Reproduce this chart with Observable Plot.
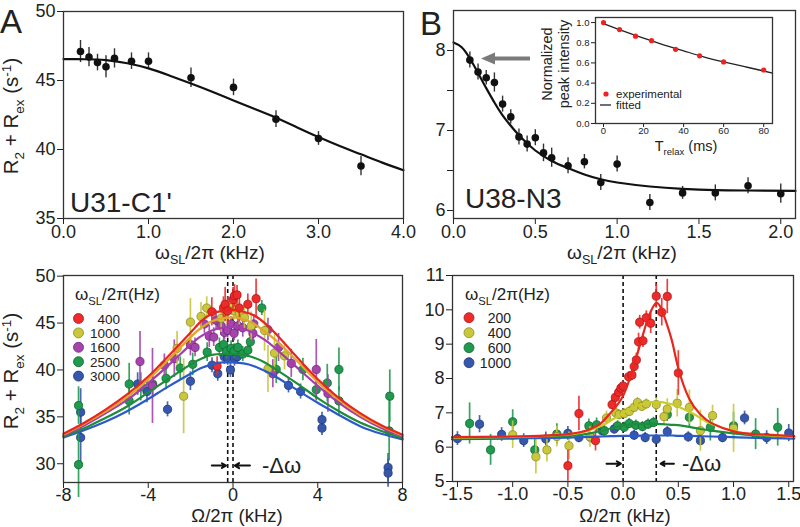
<!DOCTYPE html>
<html><head><meta charset="utf-8">
<script src="https://cdn.jsdelivr.net/npm/d3@7"></script>
<script src="https://cdn.jsdelivr.net/npm/@observablehq/plot@0.6"></script>
<style>
body{margin:0;background:#fff;}
#wrap{position:relative;width:800px;height:527px;background:#fff;overflow:hidden;}
#wrap svg{position:absolute;left:0;top:0;background:transparent;overflow:visible;}
</style></head><body><div id="wrap"></div>
<script>
const FONT = "'Liberation Sans', Arial, Helvetica, sans-serif";

// ---------- Panel A : U31-C1' ----------
const aX   = [0.2, 0.3, 0.4, 0.5, 0.6, 0.8, 1.0, 1.5, 2.0, 2.5, 3.0, 3.5];
const aY   = [47.1, 46.7, 46.3, 46.0, 46.6, 46.4, 46.4, 45.2, 44.5, 42.2, 40.8, 38.8];
const aErr = [0.8, 0.7, 0.6, 0.8, 0.7, 0.6, 0.6, 0.7, 0.6, 0.6, 0.5, 0.7];
const aFitX = [0, 0.25, 0.5, 0.75, 1.0, 1.25, 1.5, 1.75, 2.0, 2.25, 2.5, 2.75, 3.0, 3.25, 3.5, 3.75, 4.0];
const aFitY = [46.55, 46.54, 46.48, 46.25, 45.88, 45.35, 44.78, 44.18, 43.55, 42.93, 42.3, 41.6, 40.9, 40.25, 39.65, 39.05, 38.5];
const aXTicks = [0, 1, 2, 3, 4];
const aYTicks = [35, 40, 45, 50];

// ---------- Panel B : U38-N3 ----------
const bX   = [0.1, 0.15, 0.2, 0.25, 0.3, 0.35, 0.4, 0.45, 0.5, 0.55, 0.6, 0.7, 0.8, 0.9, 1.0, 1.2, 1.4, 1.6, 1.8, 2.0];
const bY   = [7.88, 7.73, 7.66, 7.60, 7.33, 7.17, 6.92, 6.83, 6.91, 6.72, 6.66, 6.56, 6.61, 6.35, 6.58, 6.10, 6.22, 6.22, 6.31, 6.21];
const bErr = [0.1, 0.1, 0.09, 0.12, 0.1, 0.09, 0.1, 0.1, 0.1, 0.11, 0.12, 0.1, 0.09, 0.1, 0.1, 0.1, 0.08, 0.1, 0.1, 0.12];
const bFitX = [0, 0.05, 0.1, 0.15, 0.2, 0.25, 0.3, 0.4, 0.5, 0.6, 0.7, 0.8, 0.9, 1.0, 1.2, 1.4, 1.6, 1.8, 2.09];
const bFitY = [8.10, 8.04, 7.90, 7.72, 7.53, 7.35, 7.19, 6.94, 6.75, 6.62, 6.53, 6.45, 6.39, 6.35, 6.30, 6.27, 6.255, 6.25, 6.245];
const bXTicks = [0, 0.5, 1.0, 1.5, 2.0];
const bYTicks = [6, 6.5, 7, 7.5, 8];

// ---------- Inset of B ----------
const insX = [0, 8, 16, 24, 36, 48, 60, 80];
const insY = [1.0, 0.93, 0.865, 0.82, 0.735, 0.67, 0.61, 0.53];
const insFitX = [0, 10, 20, 30, 40, 50, 60, 70, 80, 84.4];
const insFitY = [0.99, 0.915, 0.845, 0.78, 0.72, 0.66, 0.61, 0.565, 0.52, 0.50];
const insXTicks = [0, 20, 40, 60, 80];
const insYTicks = [0, 0.2, 0.4, 0.6, 0.8, 1.0];

// ---------- Panel C (U31-C1' off-resonance) ----------
const cSeries = ["400", "1000", "1600", "2500", "3000"];
const c400X = [-1.0, -0.75, -0.45, -0.37, -0.25, 0.0, 0.07, 0.19, 0.3, 0.7, 1.09];
const c400Y = [46.2, 40.4, 46.6, 47.0, 46.3, 47.5, 47.9, 48.0, 46.6, 47.0, 47.6];
const c400E = [1.5, 1.0, 1.2, 1.8, 1.5, 1.3, 1.2, 1.0, 1.5, 1.1, 2.1];
const c1000X = [-2.64, -2.33, -2.01, -1.51, -1.24, -0.56, -0.33, 0.0, 0.04, 0.15, 0.3, 0.54, 0.86, 1.49, 1.65, 1.96, 2.43];
const c1000Y = [42.3, 37.2, 45.1, 45.7, 46.6, 45.5, 46.2, 46.8, 46.3, 46.6, 46.0, 45.6, 44.7, 44.2, 40.1, 41.8, 41.5];
const c1000E = [1.8, 4.0, 2.5, 1.5, 1.2, 1.5, 1.2, 1.0, 1.0, 1.0, 1.2, 1.3, 1.5, 2.2, 2.5, 2.0, 1.5];
const c1600X = [-4.39, -3.8, -3.24, -2.77, -2.01, -1.79, -1.35, -1.12, -0.91, -0.8, -0.56, -0.4, -0.25, -0.09, 0.05, 0.23, 0.46, 0.94, 0.98, 1.65, 1.88, 2.15, 2.75, 3.93, 4.48];
const c1600Y = [40.9, 38.3, 40.5, 41.2, 42.7, 42.4, 44.9, 43.6, 43.5, 45.3, 44.7, 44.0, 44.2, 44.9, 43.9, 44.7, 44.5, 43.9, 44.9, 44.3, 39.6, 42.4, 40.7, 40.05, 37.5];
const c1600E = [3.2, 4.0, 1.2, 2.0, 1.2, 1.0, 1.0, 1.2, 1.0, 1.0, 1.0, 0.8, 0.8, 0.8, 0.8, 0.8, 1.0, 1.0, 1.0, 1.2, 1.5, 1.5, 1.5, 3.2, 2.0];
const c2500X = [-7.29, -7.29, -4.9, -4.9, -4.35, -3.79, -3.16, -2.49, -1.9, -1.22, -0.64, -0.44, -0.3, -0.09, 0.05, 0.23, 0.46, 0.7, 0.82, 1.36, 2.04, 3.3, 3.93, 4.45, 5.0, 5.0, 7.4, 7.37];
const c2500Y = [36.2, 29.9, 38.5, 36.7, 38.2, 38.5, 39.1, 40.2, 40.6, 41.9, 42.4, 42.7, 42.0, 42.3, 42.0, 42.4, 41.7, 42.1, 43.0, 46.6, 40.05, 40.05, 37.9, 38.6, 40.05, 36.7, 37.2, 33.5];
const c2500E = [2.0, 3.5, 2.2, 1.5, 1.5, 1.2, 1.2, 1.2, 1.2, 1.0, 1.0, 1.0, 0.8, 0.8, 0.8, 0.8, 0.8, 0.8, 1.0, 0.8, 1.5, 1.2, 1.2, 2.0, 2.3, 1.5, 2.8, 3.2];
const c3000X = [-7.19, -7.19, -4.5, -4.06, -3.09, -2.01, -0.99, -0.72, -0.41, -0.25, -0.12, 0.07, 0.2, 2.62, 3.19, 4.2, 4.2, 7.32, 7.32];
const c3000Y = [35.5, 32.8, 38.5, 37.7, 35.8, 38.8, 40.5, 39.6, 41.4, 41.3, 40.0, 41.2, 41.4, 38.35, 37.7, 34.7, 33.8, 29.6, 29.0];
const c3000E = [2.5, 3.0, 1.2, 1.2, 0.8, 1.0, 0.8, 0.8, 0.8, 0.8, 0.8, 0.8, 0.8, 0.8, 0.8, 0.8, 0.8, 1.5, 1.5];
const cFitX = [-8, -7, -6, -5, -4, -3, -2, -1.5, -1, -0.5, 0, 0.5, 1, 1.5, 2, 3, 4, 5, 6, 7, 8];
const cFit400  = [33.2, 34.4, 35.8, 37.4, 39.3, 41.6, 44.0, 45.2, 46.0, 46.3, 46.4, 46.2, 45.8, 45.0, 43.9, 41.4, 39.0, 37.0, 35.4, 34.1, 33.1];
const cFit1000 = [33.1, 34.3, 35.6, 37.1, 39.0, 41.2, 43.5, 44.5, 45.2, 45.5, 45.6, 45.4, 44.9, 44.1, 43.2, 41.0, 38.7, 36.8, 35.2, 34.0, 33.0];
const cFit1600 = [33.0, 34.1, 35.4, 36.8, 38.6, 40.6, 42.7, 43.6, 44.2, 44.5, 44.6, 44.4, 43.9, 43.2, 42.3, 40.3, 38.3, 36.5, 35.0, 33.8, 32.9];
const cFit2500 = [32.9, 33.8, 34.9, 36.1, 37.6, 39.1, 40.6, 41.2, 41.6, 41.7, 41.7, 41.6, 41.3, 40.8, 40.1, 38.6, 37.0, 35.6, 34.4, 33.5, 32.7];
const cFit3000 = [32.8, 33.6, 34.5, 35.6, 36.9, 38.3, 39.6, 40.2, 40.6, 40.8, 40.8, 40.7, 40.4, 39.9, 39.3, 37.9, 36.5, 35.2, 34.0, 33.2, 32.6];
const cXTicks = [-8, -4, 0, 4, 8];
const cYTicks = [30, 35, 40, 45, 50];
const cDashed = [-0.25, 0];
const cArrowFrom = [-1.0, 0.8];
const cArrowTo = [-0.33, 0.08];
const cArrowY = 29.8;

// ---------- Panel D (U38-N3 off-resonance) ----------
const dSeries = ["200", "400", "600", "1000"];
const d200X = [-0.5, -0.4, -0.25, -0.1, -0.07, -0.04, -0.02, 0.0, 0.05, 0.08, 0.1, 0.12, 0.14, 0.18, 0.15, 0.21, 0.25, 0.3, 0.35, 0.4, 0.5];
const d200Y = [5.46, 6.98, 6.19, 7.24, 7.45, 7.6, 7.72, 7.78, 8.05, 8.1, 8.35, 8.54, 9.07, 9.1, 9.64, 9.77, 9.61, 10.4, 9.93, 10.39, 8.16];
const d200E = [0.45, 0.5, 0.3, 0.15, 0.15, 0.15, 0.15, 0.15, 0.15, 0.15, 0.15, 0.2, 0.25, 0.2, 0.2, 0.2, 0.3, 0.35, 0.4, 0.5, 0.65];
const d400X = [-1.0, -0.79, -0.69, -0.6, -0.49, -0.3, -0.15, -0.066, -0.036, 0.01, 0.055, 0.1, 0.13, 0.17, 0.21, 0.3, 0.37, 0.4, 0.49, 0.6, 0.7, 0.81, 1.0];
const d400Y = [6.36, 5.72, 5.92, 6.31, 6.04, 6.3, 6.85, 7.0, 6.95, 6.98, 7.04, 7.16, 7.3, 7.19, 7.26, 7.24, 6.89, 7.11, 7.28, 7.16, 6.48, 6.92, 6.55];
const d400E = [0.4, 0.5, 0.35, 0.3, 0.4, 0.3, 0.2, 0.15, 0.15, 0.15, 0.15, 0.15, 0.15, 0.15, 0.15, 0.2, 0.25, 0.3, 0.4, 0.5, 0.6, 0.3, 0.7];
const d600X = [-1.39, -1.2, -1.0, -0.8, -0.6, -0.31, -0.24, -0.17, -0.05, 0.01, 0.055, 0.115, 0.175, 0.226, 0.275, 0.4, 0.6, 0.79, 1.0, 1.2, 1.4];
const d600Y = [6.69, 5.92, 6.74, 5.92, 6.38, 6.62, 6.65, 6.48, 6.62, 6.58, 6.69, 6.64, 6.6, 6.67, 6.72, 6.95, 6.87, 6.58, 6.62, 6.38, 6.58];
const d600E = [0.6, 0.45, 0.35, 0.3, 0.3, 0.2, 0.2, 0.2, 0.15, 0.15, 0.15, 0.15, 0.15, 0.15, 0.15, 0.2, 0.3, 0.4, 0.4, 0.45, 0.55];
const d1000X = [-1.5, -1.3, -1.1, -0.9, -0.7, -0.5, -0.4, -0.29, -0.19, -0.08, 0.1, 0.2, 0.3, 0.4, 0.59, 0.7, 0.9, 1.1, 1.3, 1.5];
const d1000Y = [6.25, 6.67, 6.37, 6.19, 6.24, 6.4, 6.28, 6.28, 6.48, 6.53, 6.35, 6.28, 6.23, 6.45, 6.30, 6.19, 6.28, 6.85, 6.28, 6.41];
const d1000E = [0.2, 0.25, 0.2, 0.2, 0.2, 0.2, 0.15, 0.15, 0.15, 0.15, 0.15, 0.15, 0.15, 0.15, 0.15, 0.15, 0.15, 0.2, 0.2, 0.25];
const dFitX    = [-1.55, -1.0, -0.5, -0.3, -0.2, -0.1, 0.0, 0.1, 0.2, 0.25, 0.3, 0.35, 0.4, 0.45, 0.5, 0.6, 0.7, 0.8, 1.0, 1.2, 1.55];
const dFit200  = [6.29, 6.31, 6.38, 6.52, 6.70, 7.05, 7.50, 8.40, 9.50, 9.95, 10.2, 10.0, 9.55, 9.0, 8.3, 7.4, 6.95, 6.7, 6.46, 6.38, 6.32];
const dFit400  = [6.28, 6.30, 6.37, 6.50, 6.62, 6.80, 7.00, 7.18, 7.28, 7.31, 7.32, 7.31, 7.28, 7.24, 7.18, 7.03, 6.85, 6.68, 6.47, 6.37, 6.30];
const dFit600  = [6.27, 6.29, 6.33, 6.40, 6.47, 6.56, 6.63, 6.67, 6.68, 6.68, 6.68, 6.67, 6.66, 6.65, 6.64, 6.59, 6.53, 6.48, 6.40, 6.34, 6.29];
const dFit1000 = [6.23, 6.25, 6.28, 6.30, 6.31, 6.32, 6.33, 6.33, 6.34, 6.34, 6.34, 6.34, 6.34, 6.34, 6.33, 6.33, 6.32, 6.31, 6.29, 6.27, 6.25];
const dXTicks = [-1.5, -1.0, -0.5, 0, 0.5, 1.0, 1.5];
const dYTicks = [5, 6, 7, 8, 9, 10, 11];
const dDashed = [0, 0.3];
const dArrowFrom = [-0.15, 0.46];
const dArrowTo = [-0.02, 0.34];
const dArrowY = 5.52;

// colours
const COL = {
  red:    {fill: "#ee2a2a", stroke: "#a81818", line: "#e8261e"},
  yellow: {fill: "#c9c73c", stroke: "#8e8c22", line: "#e2a72a", lineD: "#cbcb2a"},
  magenta:{fill: "#a345ad", stroke: "#6e2476", line: "#a63cab"},
  green:  {fill: "#1f9a4e", stroke: "#0e6630", line: "#1e8c3a"},
  blue:   {fill: "#3757aa", stroke: "#1c3680", line: "#2c5ac8"}
};

// ---------- helpers ----------
const rows = (xs, ys, es) => xs.map((x, i) => ({x, y: ys[i], e: es ? es[i] : 0}));
const fmt1 = d => d.toFixed(1);
const fmt0 = d => String(d);

function panel(o) {
  return Plot.plot({
    width: 800, height: 527,
    marginLeft: o.L, marginRight: 800 - o.R, marginTop: o.T, marginBottom: 527 - o.B,
    style: {background: "transparent", fontFamily: FONT, fontSize: (o.fs || 18) + "px", color: "#222", overflow: "visible"},
    x: {domain: o.xd, ticks: o.xt, tickFormat: o.xf, tickSize: o.ts || 6, tickPadding: o.tpx == null ? 1 : o.tpx, label: null},
    y: {domain: o.yd, ticks: o.yt, tickFormat: o.yf, tickSize: o.ts || 6, tickPadding: o.tpy == null ? 2 : o.tpy, label: null},
    marks: [
      ...(o.bg ? [Plot.frame({fill: "white", stroke: null})] : []),
      ...o.marks,
      Plot.frame({stroke: "#333", strokeWidth: 1.3})
    ]
  });
}

function errDots(data, c, r) {
  return [
    Plot.ruleX(data, {x: "x", y1: d => d.y - d.e, y2: d => d.y + d.e, stroke: c.fill, strokeWidth: 1.7, strokeOpacity: 0.9}),
    Plot.dot(data, {x: "x", y: "y", r: r, fill: c.fill, stroke: c.stroke, strokeWidth: 0.8})
  ];
}

function rich(svg, x, y, parts, size, opt = {}) {
  const t = d3.select(svg).append("text")
    .attr("x", x).attr("y", y).attr("font-size", size)
    .attr("text-anchor", opt.anchor || "middle").attr("font-family", FONT).attr("fill", "#222");
  if (opt.rotate) t.attr("transform", `rotate(${opt.rotate},${x},${y})`);
  let cur = 0;
  for (const [s, k] of parts) {
    const off = k === "sub" ? 0.28 * size : k === "sup" ? -0.32 * size : 0;
    t.append("tspan").attr("dy", off - cur).attr("font-size", k === "n" ? size : size * 0.66).text(s);
    cur = off;
  }
  return t;
}
function plain(svg, x, y, s, size, anchor = "start") {
  return d3.select(svg).append("text").attr("x", x).attr("y", y).attr("font-size", size)
    .attr("text-anchor", anchor).attr("font-family", FONT).attr("fill", "#222").text(s);
}
const RLABEL = [["R", "n"], ["2", "sub"], [" + R", "n"], ["ex", "sub"], [" (s", "n"], ["-1", "sup"], [")", "n"]];

const wrap = document.getElementById("wrap");

// ---------- A ----------
const A = panel({
  L: 63, R: 403, T: 11, B: 218,
  xd: [0, 4], yd: [35, 50], xt: aXTicks, yt: aYTicks, xf: fmt1, yf: fmt0,
  marks: [
    Plot.ruleX(rows(aX, aY, aErr), {x: "x", y1: d => d.y - d.e, y2: d => d.y + d.e, stroke: "#333", strokeWidth: 1.4}),
    Plot.line(rows(aFitX, aFitY), {x: "x", y: "y", stroke: "#111", strokeWidth: 2.2, curve: "natural"}),
    Plot.dot(rows(aX, aY), {x: "x", y: "y", r: 3.8, fill: "#111"})
  ]
});
wrap.appendChild(A);
plain(A, 0, 33, "A", 33);
plain(A, 70, 212, "U31-C1'", 28);
rich(A, 210, 259, [["ω", "n"], ["SL", "sub"], ["/2π (kHz)", "n"]], 19);
rich(A, 18, 116, RLABEL, 20.5, {rotate: -90});

// ---------- B ----------
const B = panel({
  L: 453, R: 795, T: 10, B: 218,
  xd: [0, 2.09], yd: [5.9, 8.5], xt: bXTicks, yt: bYTicks, xf: fmt1, yf: d => Number.isInteger(d) ? String(d) : "",
  marks: [
    Plot.ruleX(rows(bX, bY, bErr), {x: "x", y1: d => d.y - d.e, y2: d => d.y + d.e, stroke: "#333", strokeWidth: 1.4}),
    Plot.line(rows(bFitX, bFitY), {x: "x", y: "y", stroke: "#111", strokeWidth: 2.2, curve: "natural"}),
    Plot.dot(rows(bX, bY), {x: "x", y: "y", r: 3.8, fill: "#111"})
  ]
});
wrap.appendChild(B);
plain(B, 420, 35, "B", 33);
plain(B, 465, 208, "U38-N3", 28);
rich(B, 622, 259, [["ω", "n"], ["SL", "sub"], ["/2π (kHz)", "n"]], 19);
{
  const g = d3.select(B).append("g");
  g.append("line").attr("x1", 530).attr("y1", 58.5).attr("x2", 492).attr("y2", 58.5).attr("stroke", "#7a7a7a").attr("stroke-width", 4);
  g.append("path").attr("d", "M481,58.5 L495,52.5 L495,64.5 Z").attr("fill", "#7a7a7a");
}

// ---------- Inset ----------
const INS = panel({
  L: 595, R: 772, T: 17, B: 123, fs: 9.5, ts: 4, tpx: 0, tpy: 2, bg: true,
  xd: [-4, 84.4], yd: [0, 1.05], xt: insXTicks, yt: insYTicks, xf: fmt0, yf: fmt1,
  marks: [
    Plot.line(rows(insFitX, insFitY), {x: "x", y: "y", stroke: "#222", strokeWidth: 1.3, curve: "natural"}),
    Plot.dot(rows(insX, insY), {x: "x", y: "y", r: 2.6, fill: "#ee2222"})
  ]
});
wrap.appendChild(INS);
d3.select(INS).append("circle").attr("cx", 606).attr("cy", 94).attr("r", 2.6).attr("fill", "#ee2222");
plain(INS, 616, 98, "experimental", 11.5);
d3.select(INS).append("line").attr("x1", 600).attr("x2", 611).attr("y1", 105).attr("y2", 105).attr("stroke", "#222").attr("stroke-width", 1.3);
plain(INS, 616, 109, "fitted", 11.5);
plain(INS, 552, 64, "Normalized", 14.5, "middle").attr("transform", "rotate(-90,552,64)");
plain(INS, 569, 64, "peak intensity", 14.5, "middle").attr("transform", "rotate(-90,569,64)");
rich(INS, 686, 151, [["T", "n"], ["relax", "sub"], [" (ms)", "n"]], 14.5);

// ---------- C ----------
const cData = [
  {k: "3000", c: COL.blue, d: rows(c3000X, c3000Y, c3000E), f: cFit3000},
  {k: "2500", c: COL.green, d: rows(c2500X, c2500Y, c2500E), f: cFit2500},
  {k: "1600", c: COL.magenta, d: rows(c1600X, c1600Y, c1600E), f: cFit1600},
  {k: "1000", c: COL.yellow, d: rows(c1000X, c1000Y, c1000E), f: cFit1000},
  {k: "400", c: COL.red, d: rows(c400X, c400Y, c400E), f: cFit400}
];
const C = panel({
  L: 63, R: 402, T: 275, B: 482,
  xd: [-8, 8], yd: [28, 50.07], xt: cXTicks, yt: cYTicks, xf: fmt0, yf: fmt0, tpx: 0,
  marks: [
    Plot.ruleX(cDashed, {x: d => d, stroke: "#111", strokeWidth: 1.6, strokeDasharray: "4,3"}),
    ...cData.flatMap(s => errDots(s.d, s.c, 4.1)),
    ...cData.map(s => Plot.line(rows(cFitX, s.f), {x: "x", y: "y", stroke: s.c.line, strokeWidth: 2.2, curve: "natural"})),
    Plot.arrow(cArrowFrom.map((x, i) => ({x1: x, x2: cArrowTo[i]})), {x1: "x1", x2: "x2", y1: cArrowY, y2: cArrowY, stroke: "#111", strokeWidth: 2, headLength: 7})
  ]
});
wrap.appendChild(C);
rich(C, 237, 522, [["Ω/2π (kHz)", "n"]], 18.5);
rich(C, 18, 371, RLABEL, 20.5, {rotate: -90});
plain(C, 262, 473, "-Δω", 22);
rich(C, 75, 300, [["ω", "n"], ["SL", "sub"], ["/2π(Hz)", "n"]], 17, {anchor: "start"});
{
  const leg = [COL.red, COL.yellow, COL.magenta, COL.green, COL.blue];
  cSeries.forEach((s, i) => {
    const y = 318.5 + i * 14.4;
    d3.select(C).append("circle").attr("cx", 78.5).attr("cy", y).attr("r", 5).attr("fill", leg[i].fill).attr("stroke", leg[i].stroke).attr("stroke-width", 0.8);
    plain(C, 120, y + 5, s, 13.5, "end");
  });
}

// ---------- D ----------
const dData = [
  {k: "1000", c: COL.blue, d: rows(d1000X, d1000Y, d1000E), f: dFit1000, lc: COL.blue.line},
  {k: "600", c: COL.green, d: rows(d600X, d600Y, d600E), f: dFit600, lc: COL.green.line},
  {k: "400", c: COL.yellow, d: rows(d400X, d400Y, d400E), f: dFit400, lc: COL.yellow.lineD},
  {k: "200", c: COL.red, d: rows(d200X, d200Y, d200E), f: dFit200, lc: COL.red.line}
];
const D = panel({
  L: 452, R: 793, T: 275, B: 481,
  xd: [-1.545, 1.543], yd: [5, 11], xt: dXTicks, yt: dYTicks, xf: fmt1, yf: fmt0, tpx: 0,
  marks: [
    Plot.ruleX(dDashed, {x: d => d, stroke: "#111", strokeWidth: 1.6, strokeDasharray: "4,3"}),
    ...dData.flatMap(s => errDots(s.d, s.c, 4.1)),
    ...dData.map(s => Plot.line(rows(dFitX, s.f), {x: "x", y: "y", stroke: s.lc, strokeWidth: 2.2, curve: "natural"})),
    Plot.arrow(dArrowFrom.map((x, i) => ({x1: x, x2: dArrowTo[i]})), {x1: "x1", x2: "x2", y1: dArrowY, y2: dArrowY, stroke: "#111", strokeWidth: 2, headLength: 7})
  ]
});
wrap.appendChild(D);
rich(D, 625, 522, [["Ω/2π (kHz)", "n"]], 18.5);
plain(D, 682, 471, "-Δω", 22);
rich(D, 465, 300, [["ω", "n"], ["SL", "sub"], ["/2π(Hz)", "n"]], 17, {anchor: "start"});
{
  const leg = [COL.red, COL.yellow, COL.green, COL.blue];
  dSeries.forEach((s, i) => {
    const y = 317.7 + i * 15;
    d3.select(D).append("circle").attr("cx", 469).attr("cy", y).attr("r", 5).attr("fill", leg[i].fill).attr("stroke", leg[i].stroke).attr("stroke-width", 0.8);
    plain(D, 511, y + 5, s, 14, "end");
  });
}
</script></body></html>
